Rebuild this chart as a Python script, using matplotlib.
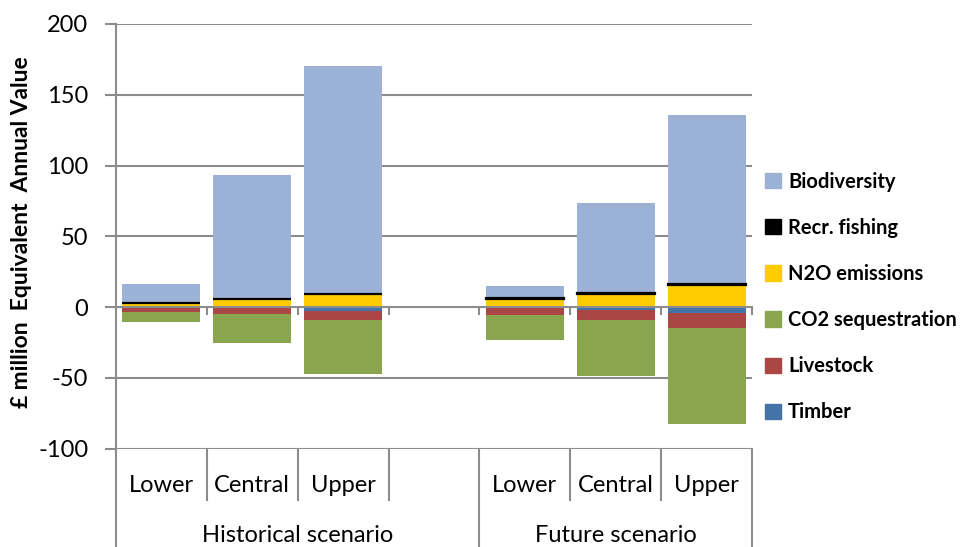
import matplotlib.pyplot as plt
from matplotlib.lines import Line2D
from matplotlib.patches import Patch
import numpy as np

plt.rcParams["font.family"] = ["Lato", "DejaVu Sans"]
plt.rcParams["axes.unicode_minus"] = False

# ---------------------------------------------------------------------
# Data. Slot 3 is the blank gap between groups.
# ---------------------------------------------------------------------
CATEGORIES = ["Lower", "Central", "Upper", "", "Lower", "Central", "Upper"]
GROUPS = ["Historical scenario", "Future scenario"]
BAR_SLOTS = [0, 1, 2, 4, 5, 6]

timber = [-0.3, -0.5, -2.5, -0.5, -2.0, -4.5]
livestock = [-3.4, -4.2, -6.5, -5.5, -7.0, -10.5]
co2_seq = [-6.9, -21.0, -38.5, -17.5, -40.0, -68.0]
n2o = [2.5, 5.5, 9.0, 5.8, 9.5, 15.8]
recr_fishing = [0.5, 0.5, 0.5, 0.5, 0.5, 0.5]
biodiversity = [13.0, 87.5, 161.0, 8.3, 63.8, 119.7]

YTICKS = [-100, -50, 0, 50, 100, 150, 200]

COLORS = {
    "Timber": "#4572A7",
    "Livestock": "#AA4643",
    "CO2 sequestration": "#89A54E",
    "N2O emissions": "#FFCC00",
    "Recr. fishing": "#000000",
    "Biodiversity": "#9BB1D6",
}
GRID = "#8C8C8C"

fig = plt.figure(figsize=(9.68, 5.47), dpi=100)
ax = fig.add_axes([116 / 968, 1 - 448.5 / 547, (752 - 116) / 968, 424.5 / 547])

x = np.array(BAR_SLOTS)
w = 0.86

# negative stack: timber closest to zero, then livestock, then CO2
neg = np.zeros(len(x))
for name, vals in [("Timber", timber), ("Livestock", livestock),
                   ("CO2 sequestration", co2_seq)]:
    ax.bar(x, vals, w, bottom=neg, color=COLORS[name], linewidth=0, zorder=3)
    neg += np.array(vals)

# positive stack: N2O, recreational fishing (thin black line), biodiversity
pos = np.zeros(len(x))
ax.bar(x, n2o, w, bottom=pos, color=COLORS["N2O emissions"], linewidth=0, zorder=3)
pos += np.array(n2o)
ax.bar(x, recr_fishing, w, bottom=pos, color="black", edgecolor="black",
       linewidth=1.6, zorder=4)
pos += np.array(recr_fishing)
ax.bar(x, biodiversity, w, bottom=pos, color=COLORS["Biodiversity"],
       linewidth=0, zorder=3)

ax.set_xlim(-0.5, len(CATEGORIES) - 0.5)
ax.set_ylim(-100, 200)
ax.set_yticks(YTICKS)
ax.tick_params(axis="y", labelsize=17, length=8, width=1.5, color=GRID, pad=12)
for v in YTICKS:
    if v != 0:
        ax.axhline(v, color=GRID, linewidth=1.5, zorder=1)

# category axis sits at zero with downward ticks at slot boundaries
for s in ["top", "right", "left"]:
    ax.spines[s].set_visible(False)
ax.spines["bottom"].set_position(("data", 0))
ax.spines["bottom"].set_color(GRID)
ax.spines["bottom"].set_linewidth(1.5)
ax.spines["bottom"].set_zorder(5)
ax.set_xticks(np.arange(0.5, len(CATEGORIES), 1.0))
ax.set_xticklabels([])
ax.tick_params(axis="x", direction="out", length=6, width=1.5, color=GRID)

# multi-level category labels below the plot
y_short = (448.5 - 500) / 424.5
y_full = (448.5 - 547) / 424.5
trans = ax.get_xaxis_transform()
ax.add_line(Line2D([-0.5, -0.5], [1, y_full], transform=trans, color=GRID,
                   lw=1.5, clip_on=False))
for b in [0.5, 1.5, 2.5, 4.5, 5.5]:
    ax.add_line(Line2D([b, b], [0, y_short], transform=trans, color=GRID,
                       lw=1.5, clip_on=False))
for b in [3.5, 6.5]:
    ax.add_line(Line2D([b, b], [0, y_full], transform=trans, color=GRID,
                       lw=1.5, clip_on=False))
for i, c in enumerate(CATEGORIES):
    ax.text(i, (448.5 - 485) / 424.5, c, transform=trans, ha="center",
            va="center", fontsize=17)
ax.text(1.5, (448.5 - 535) / 424.5, GROUPS[0], transform=trans,
        ha="center", va="center", fontsize=17)
ax.text(5.0, (448.5 - 535) / 424.5, GROUPS[1], transform=trans,
        ha="center", va="center", fontsize=17)

fig.text(22 / 968, 1 - 232 / 547, "£ million  Equivalent  Annual Value",
         rotation=90, ha="center", va="center", fontsize=16.5,
         fontweight="bold")

# legend, Excel order (reverse of series)
order = ["Biodiversity", "Recr. fishing", "N2O emissions",
         "CO2 sequestration", "Livestock", "Timber"]
handles = [Patch(facecolor=COLORS[n], edgecolor=COLORS[n]) for n in order]
fig.legend(handles, order, loc="center left",
           bbox_to_anchor=(765 / 968, 1 - 297 / 547), frameon=False,
           prop={"size": 14.5, "weight": "bold"}, handlelength=0.8,
           handleheight=0.8, handletextpad=0.35, labelspacing=1.3,
           borderaxespad=0, borderpad=0)

fig.savefig("out.png", dpi=100)
